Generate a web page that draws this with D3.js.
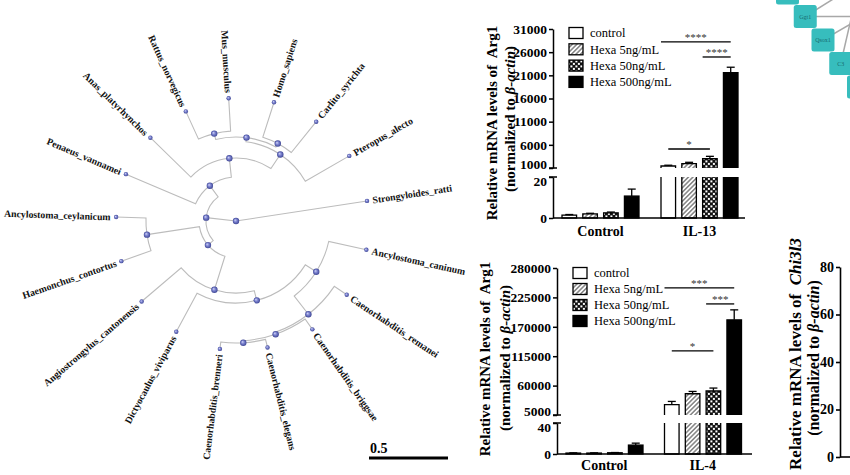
<!DOCTYPE html>
<html><head><meta charset="utf-8">
<script src="https://cdn.jsdelivr.net/npm/d3@7"></script>
<style>
body{margin:0;background:#fff}
svg{display:block}
text{font-family:"Liberation Serif","Times New Roman",serif}
</style>
</head><body>
<svg id="c" width="850" height="475"></svg>
<script>
// ================= DATA =================
// phylogenetic tree: [parent, child, branch length]
const treeEdges = [
  ["", "root", 0],
  ["root", "Strongyloides_ratti", 0.839],
  ["root", "n1", 0.19],
  ["n1", "n2", 0.044],
  ["n2", "n3", 0.222],
  ["n3", "n4", 0.063],
  ["n4", "n5", 0.082],
  ["n5", "Ancylostoma_caninum", 0.244],
  ["n5", "n6", 0.146],
  ["n6", "Caenorhabditis_remanei", 0.095],
  ["n6", "n7", 0.012],
  ["n7", "Caenorhabditis_briggsae", 0.080],
  ["n7", "n8", 0.013],
  ["n8", "Caenorhabditis_elegans", 0.053],
  ["n8", "Caenorhabditis_brenneri", 0.044],
  ["n4", "Dictyocaulus_viviparus", 0.277],
  ["n3", "Angiostrongylus_cantonensis", 0.329],
  ["n2", "n9", 0.336],
  ["n9", "Haemonchus_contortus", 0.199],
  ["n9", "Ancylostoma_ceylanicum", 0.189],
  ["n1", "n10", 0.088],
  ["n10", "Penaeus_vannamei", 0.479],
  ["n10", "n11", 0.121],
  ["n11", "Anas_platyrhynchos", 0.357],
  ["n11", "n12", 0.107],
  ["n12", "n13", 0.026],
  ["n13", "n14", 0.038],
  ["n14", "Rattus_norvegicus", 0.193],
  ["n14", "Mus_musculus", 0.208],
  ["n13", "n15", 0.025],
  ["n15", "Homo_sapiens", 0.232],
  ["n15", "Carlito_syrichta", 0.251],
  ["n12", "Pteropus_alecto", 0.321]
];
const scaleBarValue = 0.5;

const seriesNames = ["control", "Hexa 5ng/mL", "Hexa 50ng/mL", "Hexa 500ng/mL"];

const il13Groups = ["Control", "IL-13"];
const il13Values = [[1.4, 2.0, 2.5, 10.7], [1430, 1950, 3000, 21600]];
const il13Errors = [[0.3, 0.3, 0.4, 3.4], [170, 280, 520, 1150]];
const il13UpperTicks = [1000, 6000, 11000, 16000, 21000, 26000, 31000];
const il13LowerTicks = [0, 20];
const il13Sig = [
  {g: 1, a: 0, b: 3, y: 28200, label: "****"},
  {g: 1, a: 2, b: 3, y: 24960, label: "****"},
  {g: 1, a: 0, b: 2, y: 5100, label: "*"}
];

const il4Groups = ["Control", "IL-4"];
const il4Values = [[1.2, 1.2, 1.6, 11.5], [24250, 44800, 49900, 183000]];
const il4Errors = [[0.3, 0.3, 0.3, 2.5], [6150, 4300, 5500, 18700]];
const il4UpperTicks = [5000, 60000, 115000, 170000, 225000, 280000];
const il4LowerTicks = [0, 40];
const il4Sig = [
  {g: 1, a: 0, b: 3, y: 242700, label: "***"},
  {g: 1, a: 2, b: 3, y: 212800, label: "***"},
  {g: 1, a: 0, b: 2, y: 125000, label: "*"}
];

const chi3l3Ticks = [0, 20, 40, 60, 80];

const netLabels = ["", "Ggt1", "Qsox1", "C3", ""];
const netEdges = [[0, -30], [1, 0], [1, -32], [2, -30], [3, -77], [4, -60]];

// ================= DRAW =================
const svg = d3.select("#c");
const defs = svg.append("defs");

const grad = defs.append("radialGradient").attr("id", "ball").attr("fx", "35%").attr("fy", "35%");
grad.append("stop").attr("offset", "0%").attr("stop-color", "#d4d7f6");
grad.append("stop").attr("offset", "45%").attr("stop-color", "#7f86d2");
grad.append("stop").attr("offset", "100%").attr("stop-color", "#3f4796");

const hatch = defs.append("pattern").attr("id", "hatch").attr("patternUnits", "userSpaceOnUse")
  .attr("width", 3.2).attr("height", 3.2).attr("patternTransform", "rotate(45)");
hatch.append("rect").attr("width", 3.2).attr("height", 3.2).attr("fill", "#fff");
hatch.append("line").attr("x1", 0.8).attr("x2", 0.8).attr("y1", 0).attr("y2", 3.2)
  .attr("stroke", "#555").attr("stroke-width", 1.1);

const checker = defs.append("pattern").attr("id", "checker").attr("patternUnits", "userSpaceOnUse")
  .attr("width", 5).attr("height", 5);
checker.append("rect").attr("width", 5).attr("height", 5).attr("fill", "#111");
checker.append("rect").attr("x", 0.4).attr("y", 0.4).attr("width", 2).attr("height", 2).attr("fill", "#fff");
checker.append("rect").attr("x", 2.9).attr("y", 2.9).attr("width", 2).attr("height", 2).attr("fill", "#fff");

const fills = ["#fff", "url(#hatch)", "url(#checker)", "#000"];

// ---------- Tree ----------
(function drawTree() {
  const cx = 236, cy = 221;
  const root = d3.stratify().id(d => d[1]).parentId(d => d[0])(treeEdges);
  root.eachBefore(n => { n.len = n.parent ? n.parent.len + n.data[2] : 0; });
  d3.cluster().size([360, 1]).separation(() => 1)(root);
  const angleOffset = -19.3;
  root.each(n => { n.ang = n.x + angleOffset; });
  const rS = d3.scaleLinear().domain([0, scaleBarValue]).range([0, 79]);
  const rad = a => a * Math.PI / 180;
  const pt = (a, r) => [cx + r * Math.cos(rad(a)), cy + r * Math.sin(rad(a))];
  const g = svg.append("g");

  g.selectAll("path.link").data(root.links()).join("path")
    .attr("fill", "none").attr("stroke", "#bcbcbc").attr("stroke-width", 1.1)
    .attr("d", l => {
      const s = l.source, t = l.target;
      const rs = rS(s.len), rt = rS(t.len);
      const p0 = pt(s.ang, rs), p1 = pt(t.ang, rs), p2 = pt(t.ang, rt);
      const sweep = t.ang > s.ang ? 1 : 0;
      return `M${p0}` + (rs > 0 ? `A${rs},${rs} 0 0 ${sweep} ${p1}` : "") + `L${p2}`;
    });

  g.selectAll("circle").data(root.descendants()).join("circle")
    .attr("cx", n => pt(n.ang, rS(n.len))[0])
    .attr("cy", n => pt(n.ang, rS(n.len))[1])
    .attr("r", n => n.children ? 3.2 : 2.2)
    .attr("fill", "url(#ball)");

  g.selectAll("text").data(root.leaves()).join("text")
    .attr("font-size", 9.8).attr("font-weight", "bold").attr("fill", "#111")
    .attr("dy", "0.35em")
    .attr("text-anchor", n => { const a = ((n.ang % 360) + 360) % 360; return (a > 90 && a < 270) ? "end" : "start"; })
    .attr("transform", n => {
      const a = ((n.ang % 360) + 360) % 360;
      const flip = a > 90 && a < 270;
      return `translate(${cx},${cy}) rotate(${a}) translate(${rS(n.len) + 5.5},0)` + (flip ? " rotate(180)" : "");
    })
    .text(n => n.id);

  const x0 = 369;
  g.append("line").attr("x1", x0).attr("x2", x0 + rS(scaleBarValue)).attr("y1", 458).attr("y2", 458)
    .attr("stroke", "#000").attr("stroke-width", 3);
  g.append("text").attr("x", x0 + 1).attr("y", 453).attr("font-size", 14).attr("font-weight", "bold")
    .text(String(scaleBarValue));
})();

// ---------- Bar charts ----------
function barChart(o) {
  const g = svg.append("g");
  const x0 = d3.scaleBand().domain(o.groups).range(o.xRange);
  const x1 = d3.scaleBand().domain(seriesNames).range([11, 88]).paddingInner(0.3);
  const yU = d3.scaleLinear().domain(o.upperDomain).range(o.upperRange);
  const yL = d3.scaleLinear().domain(o.lowerDomain).range(o.lowerRange);
  const lowMax = o.lowerDomain[1], upMin = o.upperDomain[0];
  const bw = x1.bandwidth();

  o.groups.forEach((grp, gi) => {
    seriesNames.forEach((s, si) => {
      const v = o.values[gi][si], e = o.errors[gi][si];
      const x = x0(grp) + x1(s);
      const stroke = "#000";
      if (v <= lowMax) {
        g.append("rect").attr("x", x).attr("y", yL(v)).attr("width", bw).attr("height", yL(0) - yL(v))
          .attr("fill", fills[si]).attr("stroke", stroke).attr("stroke-width", 1.3);
        const ye = yL(v + e);
        g.append("line").attr("x1", x + bw / 2).attr("x2", x + bw / 2).attr("y1", yL(v)).attr("y2", ye).attr("stroke", stroke).attr("stroke-width", 1.3);
        g.append("line").attr("x1", x + bw / 2 - 4).attr("x2", x + bw / 2 + 4).attr("y1", ye).attr("y2", ye).attr("stroke", stroke).attr("stroke-width", 1.3);
      } else {
        g.append("rect").attr("x", x).attr("y", yL(lowMax)).attr("width", bw).attr("height", yL(0) - yL(lowMax))
          .attr("fill", fills[si]);
        g.append("path").attr("fill", "none").attr("stroke", stroke).attr("stroke-width", 1.3)
          .attr("d", `M${x},${yL(lowMax)}V${yL(0)}H${x + bw}V${yL(lowMax)}`);
        g.append("rect").attr("x", x).attr("y", yU(v)).attr("width", bw).attr("height", yU(upMin) - yU(v))
          .attr("fill", fills[si]);
        g.append("path").attr("fill", "none").attr("stroke", stroke).attr("stroke-width", 1.3)
          .attr("d", `M${x},${yU(upMin)}V${yU(v)}H${x + bw}V${yU(upMin)}`);
        const ye = yU(v + e);
        g.append("line").attr("x1", x + bw / 2).attr("x2", x + bw / 2).attr("y1", yU(v)).attr("y2", ye).attr("stroke", stroke).attr("stroke-width", 1.3);
        g.append("line").attr("x1", x + bw / 2 - 4).attr("x2", x + bw / 2 + 4).attr("y1", ye).attr("y2", ye).attr("stroke", stroke).attr("stroke-width", 1.3);
      }
    });
  });

  const styleAxis = sel => {
    sel.attr("font-family", "Liberation Serif, serif");
    sel.selectAll("path.domain").attr("stroke-width", 1.5);
    sel.selectAll(".tick line").attr("stroke-width", 1.5);
    sel.selectAll(".tick text").attr("font-size", 13.5).attr("font-weight", "bold").attr("fill", "#000");
  };
  g.append("g").attr("transform", `translate(${o.axisX},0)`)
    .call(d3.axisLeft(yU).tickValues(o.upperTicks).tickFormat(d3.format("d")).tickSize(4).tickSizeOuter(0).tickPadding(2))
    .call(styleAxis)
    .call(sel => sel.selectAll(".tick text").filter(d => d === upMin).attr("dy", "0.05em"));
  g.append("g").attr("transform", `translate(${o.axisX},0)`)
    .call(d3.axisLeft(yL).tickValues(o.lowerTicks).tickFormat(d3.format("d")).tickSize(4).tickSizeOuter(0).tickPadding(2))
    .call(styleAxis)
    .call(sel => sel.selectAll(".tick text").filter(d => d === lowMax).attr("dy", "0.6em"));
  [yU(upMin), yL(lowMax)].forEach(yy => {
    g.append("line").attr("x1", o.axisX - 4).attr("x2", o.axisX + 4).attr("y1", yy).attr("y2", yy)
      .attr("stroke", "#000").attr("stroke-width", 1.5);
  });
  g.append("line").attr("x1", o.axisX).attr("x2", o.xEnd).attr("y1", yL(0)).attr("y2", yL(0))
    .attr("stroke", "#000").attr("stroke-width", 1.5);
  o.groups.forEach(grp => {
    g.append("text").attr("x", x0(grp) + x0.bandwidth() / 2).attr("y", o.catY)
      .attr("text-anchor", "middle").attr("font-size", 14).attr("font-weight", "bold").text(grp);
  });

  o.sig.forEach(s => {
    const grp = o.groups[s.g];
    const xa = x0(grp) + x1(seriesNames[s.a]) + (s.label.length > 1 ? 0 : bw / 2);
    const xb = x0(grp) + x1(seriesNames[s.b]) + bw / 2;
    const yy = yU(s.y);
    g.append("line").attr("x1", xa).attr("x2", xb).attr("y1", yy).attr("y2", yy).attr("stroke", "#000").attr("stroke-width", 1.3);
    g.append("text").attr("x", (xa + xb) / 2).attr("y", yy - 1).attr("text-anchor", "middle")
      .attr("font-size", 11).attr("fill", "#333").text(s.label);
  });

  seriesNames.forEach((s, i) => {
    const yy = o.legY + i * o.legStep;
    g.append("rect").attr("x", o.legX).attr("y", yy - 5.5).attr("width", 14).attr("height", 11)
      .attr("fill", fills[i]).attr("stroke", "#000").attr("stroke-width", 1.3);
    g.append("text").attr("x", o.legX + 21).attr("y", yy).attr("dy", "0.35em").attr("font-size", 12.5).text(s);
  });

  const t1 = g.append("text").attr("transform", `translate(${o.yl1[0]},${o.yl1[1]}) rotate(-90)`)
    .attr("text-anchor", "middle").attr("dy", "0.35em").attr("font-size", 15).attr("font-weight", "bold")
    .style("white-space", "pre");
  t1.append("tspan").text("Relative mRNA levels of  ");
  t1.append("tspan").text(o.gene);
  const t2 = g.append("text").attr("transform", `translate(${o.yl2[0]},${o.yl2[1]}) rotate(-90)`)
    .attr("text-anchor", "middle").attr("dy", "0.35em").attr("font-size", 15).attr("font-weight", "bold");
  t2.append("tspan").text("(normalized to ");
  t2.append("tspan").attr("font-style", "italic").text("β-actin");
  t2.append("tspan").text(")");
}

barChart({
  groups: il13Groups, values: il13Values, errors: il13Errors,
  upperDomain: [1000, 31000], upperRange: [168, 29],
  lowerDomain: [0, 20], lowerRange: [218, 177],
  upperTicks: il13UpperTicks, lowerTicks: il13LowerTicks, sig: il13Sig,
  xRange: [551, 749], axisX: 553, xEnd: 745, catY: 236,
  legX: 569, legY: 33, legStep: 16.3,
  yl1: [492, 123], yl2: [510, 119], gene: "Arg1"
});

barChart({
  groups: il4Groups, values: il4Values, errors: il4Errors,
  upperDomain: [5000, 280000], upperRange: [415, 268],
  lowerDomain: [0, 40], lowerRange: [454, 423],
  upperTicks: il4UpperTicks, lowerTicks: il4LowerTicks, sig: il4Sig,
  xRange: [555, 752], axisX: 557, xEnd: 752, catY: 470,
  legX: 573, legY: 273, legStep: 16,
  yl1: [485, 359], yl2: [505, 358], gene: "Arg1"
});

// ---------- partial Chi3l3 chart ----------
(function () {
  const g = svg.append("g");
  const y = d3.scaleLinear().domain([0, 80]).range([457, 267]);
  g.append("g").attr("transform", "translate(840,0)")
    .call(d3.axisLeft(y).tickValues(chi3l3Ticks).tickSize(4).tickSizeOuter(0).tickPadding(2))
    .call(sel => {
      sel.selectAll("path.domain").attr("stroke-width", 1.6);
      sel.selectAll(".tick line").attr("stroke-width", 1.6);
      sel.selectAll(".tick text").attr("font-size", 14).attr("font-weight", "bold").attr("fill", "#000")
        .attr("font-family", "Liberation Serif, serif");
    });
  g.append("line").attr("x1", 840).attr("x2", 850).attr("y1", y(0)).attr("y2", y(0)).attr("stroke", "#000").attr("stroke-width", 1.6);
  const t1 = g.append("text").attr("transform", "translate(795,354) rotate(-90)")
    .attr("text-anchor", "middle").attr("dy", "0.35em").attr("font-size", 17).attr("font-weight", "bold")
    .style("white-space", "pre");
  t1.append("tspan").text("Relative mRNA levels of  ");
  t1.append("tspan").attr("font-style", "italic").text("Chi3l3");
  const t2 = g.append("text").attr("transform", "translate(813,358) rotate(-90)")
    .attr("text-anchor", "middle").attr("dy", "0.35em").attr("font-size", 16).attr("font-weight", "bold");
  t2.append("tspan").text("(normalized to ");
  t2.append("tspan").attr("font-style", "italic").text("β-actin");
  t2.append("tspan").text(")");
})();

// ---------- network fragment ----------
(function () {
  const g = svg.append("g");
  const nx = d3.scaleLinear().domain([0, 4]).range([776, 847]);
  const ny = d3.scaleLinear().domain([0, 4]).range([-18.5, 75.5]);
  const size = 23;
  netEdges.forEach(([i, ang]) => {
    const cx = nx(i) + size / 2, cy = ny(i) + size / 2, a = ang * Math.PI / 180;
    g.append("line").attr("x1", cx).attr("y1", cy).attr("x2", cx + 150 * Math.cos(a)).attr("y2", cy + 150 * Math.sin(a))
      .attr("stroke", "#a8a8a8").attr("stroke-width", 1.5);
  });
  netLabels.forEach((lab, i) => {
    g.append("rect").attr("x", nx(i)).attr("y", ny(i)).attr("width", size).attr("height", size).attr("rx", 2.5)
      .attr("fill", "#37bdbd");
    g.append("text").attr("x", nx(i) + size / 2).attr("y", ny(i) + size / 2).attr("dy", "0.35em")
      .attr("text-anchor", "middle").attr("font-size", 6).attr("font-family", "Arial, sans-serif")
      .attr("fill", "#176c70").text(lab);
  });
})();
</script>
</body></html>
